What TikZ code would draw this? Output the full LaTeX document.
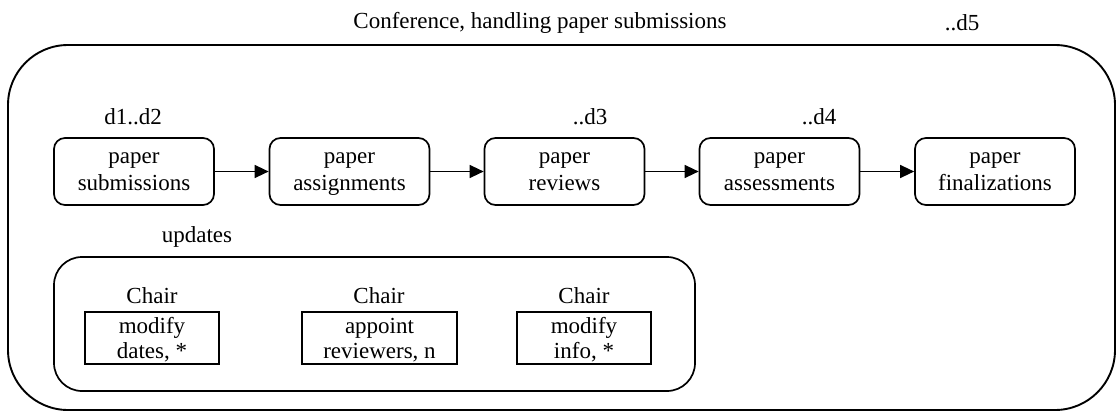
\documentclass[tikz,border=0pt]{standalone}
\usepackage{fontspec}
\setmainfont{Liberation Serif}
\usetikzlibrary{arrows.meta}
\begin{document}
\begin{tikzpicture}[x=1pt,y=-1pt, font=\fontsize{23}{27}\selectfont,
 container/.style={draw, line width=1.9pt, inner sep=0pt},
 proc/.style={draw, line width=1.7pt, rounded corners=11pt, minimum width=160pt, minimum height=67pt, align=center, inner sep=0pt, text depth=-1pt},
 act/.style={draw, line width=1.7pt, align=center, inner sep=0pt, minimum height=52pt, text depth=0pt, font=\fontsize{23}{25}\selectfont},
 lbl/.style={inner sep=0pt},
 flow/.style={line width=1.4pt, -{Triangle[length=14pt,width=13pt]}}]
\useasboundingbox (0,0) rectangle (1117,412);
% outer container
\node[container, rounded corners=60pt, minimum width=1107pt, minimum height=365pt] (outer) at (561.5,227.5) {};
\node[lbl] (title) at (540,23) {Conference, handling paper submissions};
\node[lbl] (d5) at (962,23) {..d5};
% process boxes
\node[proc] (p1) at (134,171.5) {paper\\submissions};
\node[proc] (p2) at (349.5,171.5) {paper\\assignments};
\node[proc] (p3) at (564.5,171.5) {paper\\reviews};
\node[proc] (p4) at (779.5,171.5) {paper\\assessments};
\node[proc] (p5) at (995,171.5) {paper\\finalizations};
\node[lbl] (d12) at (133,117) {d1..d2};
\node[lbl] (d3) at (590,117) {..d3};
\node[lbl] (d4) at (819,117) {..d4};
\draw[flow] (p1) -- (p2);
\draw[flow] (p2) -- (p3);
\draw[flow] (p3) -- (p4);
\draw[flow] (p4) -- (p5);
% updates
\node[lbl] (upd) at (197,237) {updates};
\node[container, line width=1.7pt, rounded corners=28pt, minimum width=641pt, minimum height=134pt] (inner) at (374.5,324) {};
\node[lbl] (c1) at (152,296) {Chair};
\node[lbl] (c2) at (379,296) {Chair};
\node[lbl] (c3) at (584,296) {Chair};
\node[act, minimum width=134pt] (a1) at (152,338) {modify\\dates, *};
\node[act, minimum width=155pt] (a2) at (379.5,338) {appoint\\reviewers, n};
\node[act, minimum width=134pt] (a3) at (584,338) {modify\\info, *};
\end{tikzpicture}
\end{document}
